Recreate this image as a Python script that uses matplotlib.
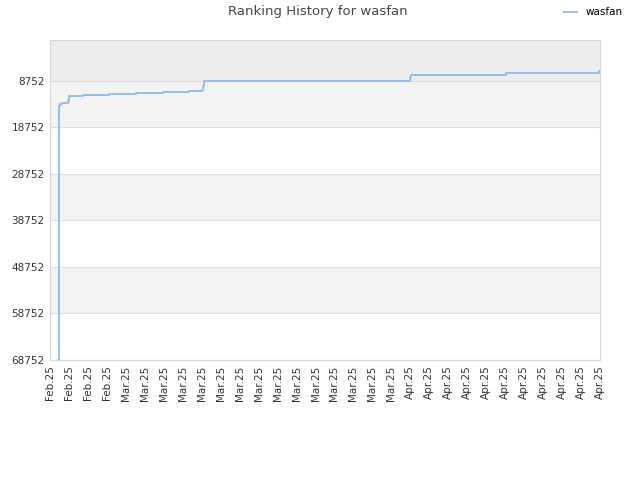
import matplotlib
matplotlib.use("Agg")
import matplotlib.pyplot as plt
import matplotlib.dates as mdates
import numpy as np
import pandas as pd

# ---------------- Data ----------------
dates = pd.to_datetime([
    "2025-02-22 22:30", "2025-02-22 23:00", "2025-02-23 01:10", "2025-02-23 03:50",
    "2025-02-23 08:00", "2025-02-23 23:45", "2025-02-24 02:30", "2025-02-25 15:30",
    "2025-02-28 12:45", "2025-03-03 12:30", "2025-03-06 12:15", "2025-03-09 09:20",
    "2025-03-10 19:10", "2025-03-10 21:50", "2025-03-11 01:10", "2025-04-02 20:40",
    "2025-04-02 23:15", "2025-04-13 11:45", "2025-04-23 17:45", "2025-04-23 21:36",
])
ranks = [
    68752, 15355, 14129, 13764,
    13549, 13204, 12129, 11914,
    11699, 11398, 11183, 11054,
    10688, 9979, 8902, 7900,
    7463, 7105, 6603, 6603,
]

x_start = pd.Timestamp("2025-02-22 00:00")
x_end = pd.Timestamp("2025-04-23 21:36")
n_ticks = 30
y_ticks = [8752, 18752, 28752, 38752, 48752, 58752, 68752]

# ---------------- Plot ----------------
fig = plt.figure(figsize=(6.4, 4.8), dpi=100)
ax = fig.add_axes([50 / 640, 120 / 480, 550 / 640, 320 / 480])

ax.axhspan(0, 8752, color="#ededed", zorder=0, lw=0)
for lo in (8752, 28752, 48752):
    ax.axhspan(lo, lo + 10000, color="#f3f3f3", zorder=0, lw=0)

ax.plot(dates, ranks, drawstyle="steps-post", color="#90c0f0", lw=1.4,
        label="wasfan", zorder=3)

ax.set_ylim(68752, 0)
ax.set_yticks(y_ticks)
ax.set_yticklabels([str(v) for v in y_ticks])
ax.set_xlim(x_start, x_end)

tick_dates = pd.date_range(x_start, x_end, periods=n_ticks)
ax.set_xticks(mdates.date2num(tick_dates))
ax.set_xticklabels([d.strftime("%b.%y") for d in tick_dates], rotation=90)

ax.grid(axis="y", color="#dedede", lw=0.8)
ax.set_axisbelow(True)
for s in ax.spines.values():
    s.set_color("#d8d8d8")
ax.tick_params(length=0, labelsize=7.5, colors="#333333", pad=4)

fig.suptitle("Ranking History for wasfan", x=0.497, y=0.99, fontsize=9.5,
             color="#444444")
fig.legend(loc="upper right", bbox_to_anchor=(0.987, 1.004), frameon=False,
           fontsize=7.5, handlelength=1.2, handletextpad=0.8)

fig.savefig("out.png", dpi=100)
